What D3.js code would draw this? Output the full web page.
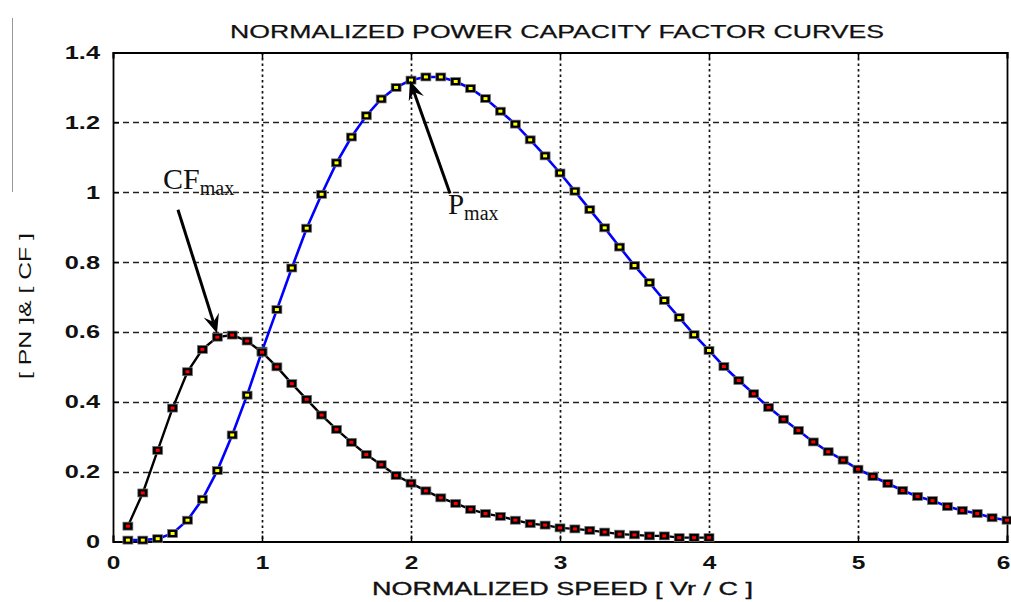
<!DOCTYPE html>
<html>
<head>
<meta charset="utf-8">
<script src="https://cdn.jsdelivr.net/npm/d3@7"></script>
<style>
  html, body { margin: 0; padding: 0; background: #fff; }
  svg { display: block; }
</style>
</head>
<body>
<svg id="chart" width="1011" height="602"></svg>
<script>
// ---------- data ----------
const speedPower = [0.1,0.2,0.3,0.4,0.5,0.6,0.7,0.8,0.9,1.0,1.1,1.2,1.3,1.4,1.5,1.6,1.7,1.8,1.9,2.0,
  2.1,2.2,2.3,2.4,2.5,2.6,2.7,2.8,2.9,3.0,3.1,3.2,3.3,3.4,3.5,3.6,3.7,3.8,3.9,4.0,
  4.1,4.2,4.3,4.4,4.5,4.6,4.7,4.8,4.9,5.0,5.1,5.2,5.3,5.4,5.5,5.6,5.7,5.8,5.9,6.0];
const powerNorm = [0.004,0.004,0.008,0.023,0.061,0.121,0.203,0.305,0.419,0.545,0.664,0.783,0.897,0.994,1.084,1.158,1.219,1.267,1.300,1.321,
  1.330,1.330,1.317,1.297,1.268,1.232,1.195,1.150,1.104,1.055,1.003,0.950,0.898,0.843,0.790,0.741,0.690,0.641,0.592,0.547,
  0.501,0.461,0.423,0.384,0.350,0.318,0.285,0.257,0.233,0.207,0.186,0.166,0.146,0.129,0.117,0.100,0.089,0.080,0.068,0.061];
const speedCF = [0.1,0.2,0.3,0.4,0.5,0.6,0.7,0.8,0.9,1.0,1.1,1.2,1.3,1.4,1.5,1.6,1.7,1.8,1.9,2.0,
  2.1,2.2,2.3,2.4,2.5,2.6,2.7,2.8,2.9,3.0,3.1,3.2,3.3,3.4,3.5,3.6,3.7,3.8,3.9,4.0];
const capacityFactor = [0.044,0.139,0.261,0.382,0.486,0.550,0.585,0.591,0.574,0.542,0.500,0.452,0.407,0.362,0.321,0.284,0.249,0.220,0.189,0.167,
  0.145,0.125,0.109,0.092,0.080,0.072,0.061,0.051,0.047,0.039,0.036,0.032,0.027,0.021,0.019,0.016,0.016,0.011,0.011,0.011];
const xTicks = [0,1,2,3,4,5,6];
const yTicks = [0,0.2,0.4,0.6,0.8,1,1.2,1.4];
const titleText = "NORMALIZED POWER CAPACITY FACTOR CURVES";
const xLabelText = "NORMALIZED SPEED [ Vr / C ]";
const yLabelText = "[ PN ]& [ CF ]";
// annotations in data units
const cfNote = {main: "CF", sub: "max", at: [0.336, 1.01], tail: [0.436, 0.95], tip: [0.698, 0.596]};
const pNote  = {main: "P",  sub: "max", at: [2.248, 0.939], tail: [2.262, 0.996], tip: [1.993, 1.319]};

// ---------- layout ----------
const svg = d3.select("#chart");
const L = 113, R = 1007, T = 52.5, B = 541.5;
const x = d3.scaleLinear().domain([0, 6]).range([L, R]);
const y = d3.scaleLinear().domain([0, 1.4]).range([B, T]);

// stray border line at left edge
svg.append("line").attr("x1", 12.5).attr("x2", 12.5).attr("y1", 18).attr("y2", 192)
  .attr("stroke", "#999").attr("stroke-width", 1);

// grid
const g = svg.append("g");
g.selectAll("line.hg").data(yTicks.filter(v => v > 0 && v < 1.4)).join("line")
  .attr("x1", L).attr("x2", R).attr("y1", d => Math.round(y(d)) + 0.5).attr("y2", d => Math.round(y(d)) + 0.5)
  .attr("stroke", "#222").attr("stroke-width", 1.6).attr("stroke-dasharray", "6,4");
g.selectAll("line.vg").data(xTicks.filter(v => v > 0 && v < 6)).join("line")
  .attr("y1", T).attr("y2", B).attr("x1", d => Math.round(x(d)) + 0.5).attr("x2", d => Math.round(x(d)) + 0.5)
  .attr("stroke", "#111").attr("stroke-width", 1.7).attr("stroke-dasharray", "2.5,3");

// axes (ticks inward, all four sides)
const tickLen = 6;
const fmt = d => d3.format("~g")(d);
const axB = svg.append("g").attr("transform", `translate(0,${B})`)
  .call(d3.axisBottom(x).tickValues(xTicks).tickSize(-tickLen).tickPadding(14).tickFormat(fmt));
const axT = svg.append("g").attr("transform", `translate(0,${T})`)
  .call(d3.axisTop(x).tickValues(xTicks).tickSize(-tickLen).tickFormat(""));
const axL = svg.append("g").attr("transform", `translate(${L},0)`)
  .call(d3.axisLeft(y).tickValues(yTicks).tickSize(-tickLen).tickPadding(14).tickFormat(fmt));
const axR = svg.append("g").attr("transform", `translate(${R},0)`)
  .call(d3.axisRight(y).tickValues(yTicks).tickSize(-tickLen).tickFormat(""));
[axB, axT, axL, axR].forEach(a => {
  a.select(".domain").attr("stroke", "#000").attr("stroke-width", 1.8);
  a.selectAll(".tick line").attr("stroke", "#000").attr("stroke-width", 1.5);
});
axB.selectAll(".tick text").each(function(d) {
  const t = d3.select(this);
  t.attr("font-family", "Liberation Sans, Arial, sans-serif").attr("font-size", 17.5).attr("font-weight", "bold")
   .attr("fill", "#111").attr("dy", null).attr("y", null)
   .attr("transform", `translate(${d === 6 ? -4 : 0},27) scale(1.4,1)`);
});
axL.selectAll(".tick text").each(function() {
  d3.select(this).attr("font-family", "Liberation Sans, Arial, sans-serif").attr("font-size", 17.5).attr("font-weight", "bold")
   .attr("fill", "#111").attr("x", null).attr("dy", null).attr("text-anchor", "end")
   .attr("transform", `translate(-13,6) scale(1.45,1)`);
});

// title & axis labels
svg.append("text").attr("x", 230).attr("y", 38).text(titleText)
  .attr("font-family", "Liberation Sans, Arial, sans-serif").attr("font-size", 18.5)
  .attr("textLength", 654).attr("lengthAdjust", "spacingAndGlyphs").attr("fill", "#111")
  .attr("stroke", "#111").attr("stroke-width", 0.25);
svg.append("text").attr("x", 372).attr("y", 595).text(xLabelText)
  .attr("font-family", "Liberation Sans, Arial, sans-serif").attr("font-size", 18.5)
  .attr("textLength", 381).attr("lengthAdjust", "spacingAndGlyphs").attr("fill", "#111")
  .attr("stroke", "#111").attr("stroke-width", 0.35);
svg.append("text").attr("transform", "translate(31,306) rotate(-90)").attr("text-anchor", "middle")
  .text(yLabelText)
  .attr("font-family", "Liberation Sans, Arial, sans-serif").attr("font-size", 17)
  .attr("textLength", 146).attr("lengthAdjust", "spacingAndGlyphs").attr("fill", "#111");

// series
const powerPts = speedPower.map((s, i) => [s, powerNorm[i]]);
const cfPts = speedCF.map((s, i) => [s, capacityFactor[i]]);
const line = d3.line().x(d => x(d[0])).y(d => y(d[1]));

function drawMarkers(pts, faceFn) {
  const mg = svg.append("g");
  mg.selectAll("rect.o").data(pts).join("rect")
    .attr("x", d => x(d[0]) - 5).attr("y", d => y(d[1]) - 4).attr("width", 10).attr("height", 8)
    .attr("fill", "#000").attr("stroke", "#777").attr("stroke-width", 0.7);
  mg.selectAll("rect.i").data(pts).join("rect")
    .attr("x", d => x(d[0]) - 2).attr("y", d => y(d[1]) - 1.5).attr("width", 4).attr("height", 3)
    .attr("fill", faceFn);
}

svg.append("path").datum(powerPts).attr("d", line).attr("fill", "none")
  .attr("stroke", "#0000ff").attr("stroke-width", 2.6);
drawMarkers(powerPts, d => d[0] > 4.05 ? "#ff0000" : "#ffff00");

svg.append("path").datum(cfPts).attr("d", line).attr("fill", "none")
  .attr("stroke", "#000").attr("stroke-width", 2.4);
drawMarkers(cfPts, () => "#ff0000");

// annotations
function arrow(note, mainSize) {
  const x1 = x(note.tail[0]), y1 = y(note.tail[1]), x2 = x(note.tip[0]), y2 = y(note.tip[1]);
  const ang = Math.atan2(y2 - y1, x2 - x1);
  const hl = 19, hw = 8, notch = 12;
  const ux = Math.cos(ang), uy = Math.sin(ang), px = -uy, py = ux;
  svg.append("line").attr("x1", x1).attr("y1", y1)
    .attr("x2", x2 - ux * notch).attr("y2", y2 - uy * notch)
    .attr("stroke", "#000").attr("stroke-width", 3);
  const p = [
    [x2, y2],
    [x2 - ux * hl + px * hw, y2 - uy * hl + py * hw],
    [x2 - ux * notch, y2 - uy * notch],
    [x2 - ux * hl - px * hw, y2 - uy * hl - py * hw]
  ];
  svg.append("path").attr("d", "M" + p.map(q => q.join(",")).join("L") + "Z").attr("fill", "#000");
  const t = svg.append("text").attr("x", x(note.at[0])).attr("y", y(note.at[1]))
    .attr("font-family", "Liberation Serif, Times New Roman, serif").attr("fill", "#111");
  t.append("tspan").text(note.main).attr("font-size", mainSize);
  t.append("tspan").text(note.sub).attr("font-size", 20).attr("dy", 6);
}
arrow(cfNote, 30);
arrow(pNote, 29);
</script>
</body>
</html>
